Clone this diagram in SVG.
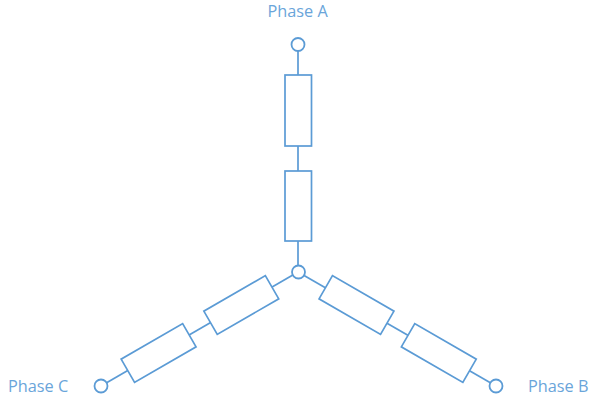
<svg xmlns="http://www.w3.org/2000/svg" width="589" height="398" viewBox="0 0 589 398">
<style>
.s{fill:#fff;stroke:#5b9bd5;stroke-width:1.7}
.c{fill:#fff;stroke:#5b9bd5;stroke-width:1.8}
.l{fill:none;stroke:#5b9bd5;stroke-width:1.7}
.t{font-family:"Open Sans","Noto Sans",sans-serif;font-size:16.300px;fill:#6aa5da}
</style>
<rect width="589" height="398" fill="#fff"/>
<g id="connectors">
<path class="l" d="M298 50V75M298 146V171M298 241V267"/>
<path class="l" d="M298 272L101 386"/>
<path class="l" d="M298 272L496 386"/>
</g>
<g id="node-phase-a"><circle class="c" cx="298" cy="44.500" r="6.500"/><text class="t" x="267.500" y="17">Phase A</text></g>
<g id="node-phase-b"><circle class="c" cx="496" cy="386" r="6.500"/><text class="t" x="528" y="392">Phase B</text></g>
<g id="node-phase-c"><circle class="c" cx="101" cy="386" r="6.500"/><text class="t" x="8" y="392">Phase C</text></g>
<g id="node-neutral"><circle class="c" cx="298.500" cy="272" r="6.500"/></g>
<g id="r-a1"><rect class="s" x="285" y="75" width="26.500" height="71"/></g>
<g id="r-a2"><rect class="s" x="285" y="171" width="26.500" height="70"/></g>
<g id="r-b1"><rect class="s" x="-35.500" y="-13.400" width="71" height="26.800" transform="translate(356.500 305) rotate(30)"/></g>
<g id="r-b2"><rect class="s" x="-35.500" y="-13.400" width="71" height="26.800" transform="translate(438.800 353) rotate(30)"/></g>
<g id="r-c1"><rect class="s" x="-35.500" y="-13.400" width="71" height="26.800" transform="translate(241.300 305) rotate(-30)"/></g>
<g id="r-c2"><rect class="s" x="-35.500" y="-13.400" width="71" height="26.800" transform="translate(158.600 353) rotate(-30)"/></g>
</svg>
